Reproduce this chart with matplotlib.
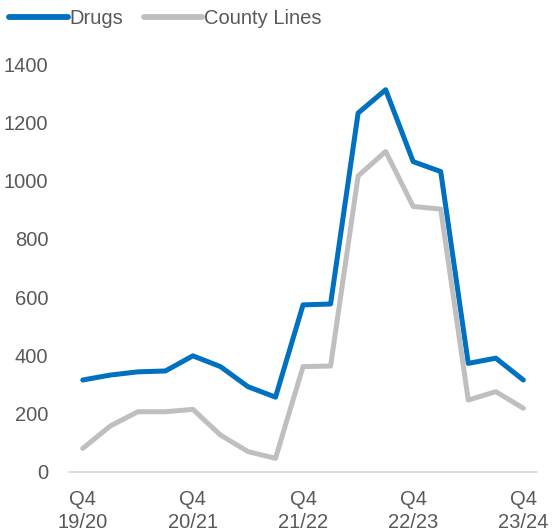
import matplotlib.pyplot as plt
import numpy as np

plt.rcParams['font.family'] = ['Liberation Sans', 'DejaVu Sans']

# quarterly counts, Q4 19/20 .. Q4 23/24
quarters = ['Q4\n19/20', '', '', '', 'Q4\n20/21', '', '', '', 'Q4\n21/22', '', '', '',
            'Q4\n22/23', '', '', '', 'Q4\n23/24']
drugs = [315, 332, 343, 346, 398, 361, 292, 256, 573, 576, 1232, 1312, 1065, 1031, 372, 390, 315]
county_lines = [80, 157, 206, 206, 214, 126, 69, 46, 361, 363, 1016, 1100, 911, 902, 246, 275, 218]

fig = plt.figure(figsize=(5.52, 5.30), dpi=100)
ax = fig.add_axes([0.125, 0.11, 0.848, 0.769])

x = np.arange(len(drugs))
ax.plot(x, drugs, color='#0070C0', lw=3.6, solid_capstyle='round', solid_joinstyle='round', label='Drugs')
ax.plot(x, county_lines, color='#BFBFBF', lw=3.6, solid_capstyle='round', solid_joinstyle='round', label='County Lines')

ax.set_xlim(-0.5, len(drugs) - 0.5)
ax.set_ylim(0, 1400)
ax.set_yticks(range(0, 1401, 200))
tick_pos = [i for i, q in enumerate(quarters) if q]
ax.set_xticks(tick_pos)
ax.set_xticklabels([quarters[i] for i in tick_pos], linespacing=1.25)
ax.tick_params(axis='both', length=0, labelsize=14.5, colors='#595959')
ax.tick_params(axis='y', pad=15)
ax.tick_params(axis='x', pad=13)

for s in ['top', 'right', 'left']:
    ax.spines[s].set_visible(False)
ax.spines['bottom'].set_color('#D9D9D9')
ax.spines['bottom'].set_linewidth(1.2)

leg = fig.legend(loc='upper left', bbox_to_anchor=(-0.005, 1.005), ncol=2, frameon=False,
                 fontsize=14.5, handlelength=2.9, handletextpad=0.1, columnspacing=1.0,
                 borderaxespad=0.2)
for line in leg.get_lines():
    line.set_linewidth(4.2)
for t in leg.get_texts():
    t.set_color('#595959')

fig.savefig('out.png', dpi=100)
